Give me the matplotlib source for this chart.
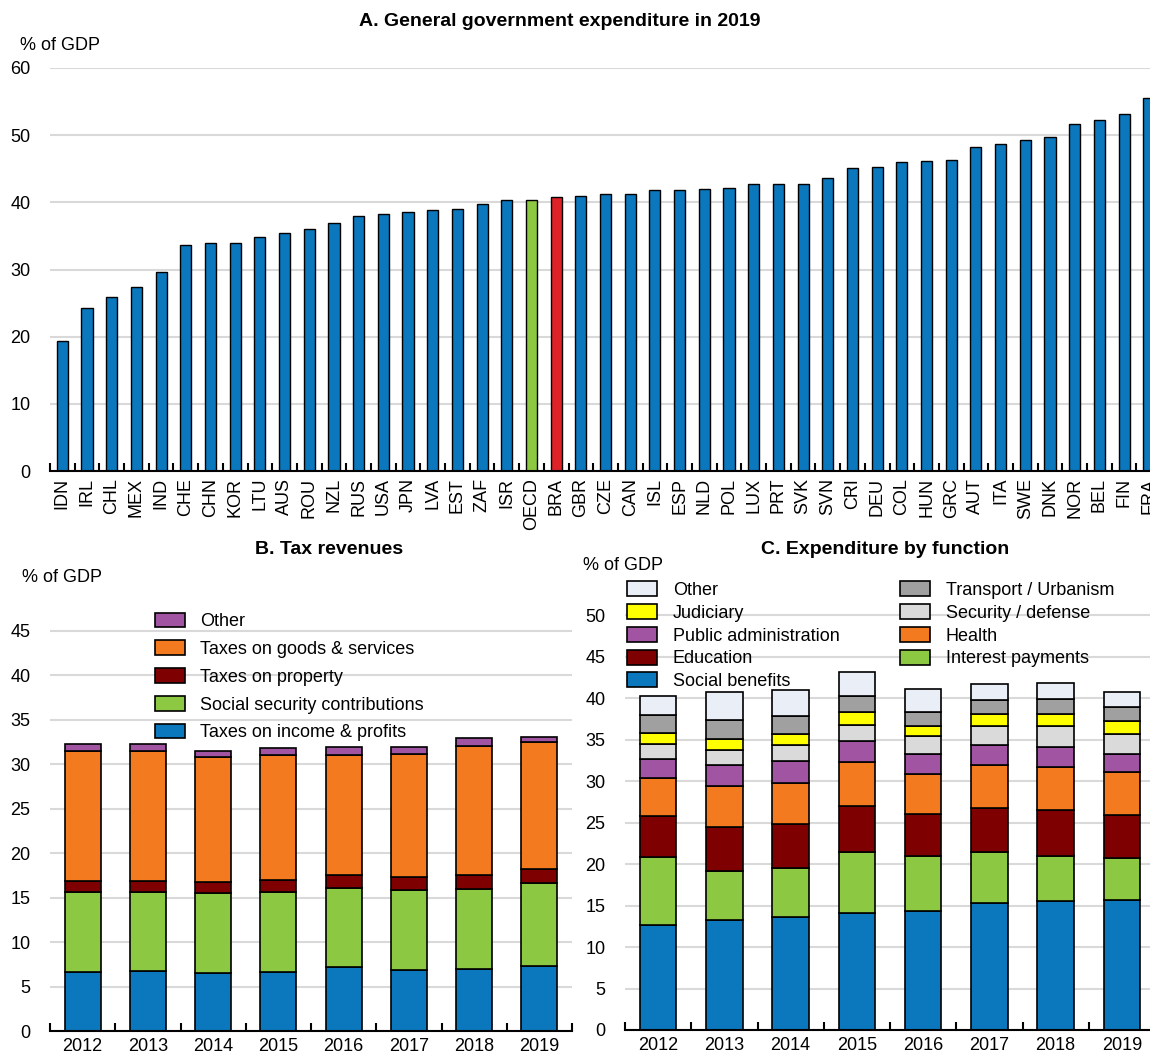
import numpy as np
import matplotlib
matplotlib.use('Agg')
from matplotlib import pyplot as plt
from matplotlib.patches import Patch

# Panel A : general government expenditure 2019, % of GDP
countries = ['IDN', 'IRL', 'CHL', 'MEX', 'IND', 'CHE', 'CHN', 'KOR', 'LTU', 'AUS',
             'ROU', 'NZL', 'RUS', 'USA', 'JPN', 'LVA', 'EST', 'ZAF', 'ISR', 'OECD',
             'BRA', 'GBR', 'CZE', 'CAN', 'ISL', 'ESP', 'NLD', 'POL', 'LUX', 'PRT',
             'SVK', 'SVN', 'CRI', 'DEU', 'COL', 'HUN', 'GRC', 'AUT', 'ITA', 'SWE',
             'DNK', 'NOR', 'BEL', 'FIN', 'FRA']
expenditure = [19.3, 24.2, 25.9, 27.4, 29.6, 33.7, 34.0, 34.0, 34.9, 35.5,
               36.0, 36.9, 37.9, 38.3, 38.5, 38.9, 39.0, 39.7, 40.4, 40.4,
               40.8, 40.9, 41.2, 41.2, 41.8, 41.9, 42.0, 42.1, 42.7, 42.7,
               42.8, 43.6, 45.1, 45.3, 46.0, 46.1, 46.3, 48.3, 48.7, 49.3,
               49.8, 51.7, 52.3, 53.2, 55.6]

years = ['2012', '2013', '2014', '2015', '2016', '2017', '2018', '2019']

# Panel B : tax revenues, % of GDP
tax_income = [6.6, 6.7, 6.5, 6.6, 7.2, 6.9, 7.0, 7.3]
tax_ssc = [9.0, 8.9, 9.0, 9.0, 8.9, 9.0, 9.0, 9.3]
tax_property = [1.3, 1.3, 1.3, 1.4, 1.4, 1.4, 1.5, 1.6]
tax_goods = [14.6, 14.6, 14.0, 14.0, 13.6, 13.9, 14.6, 14.3]
tax_other = [0.8, 0.8, 0.7, 0.8, 0.8, 0.8, 0.9, 0.6]

# Panel C : expenditure by function, % of GDP
exp_social = [12.7, 13.3, 13.6, 14.1, 14.4, 15.3, 15.5, 15.7]
exp_interest = [8.2, 5.9, 5.9, 7.4, 6.6, 6.1, 5.5, 5.0]
exp_education = [4.9, 5.3, 5.3, 5.5, 5.0, 5.3, 5.5, 5.2]
exp_health = [4.6, 4.9, 5.0, 5.3, 4.9, 5.3, 5.2, 5.2]
exp_admin = [2.3, 2.6, 2.6, 2.5, 2.4, 2.3, 2.4, 2.2]
exp_security = [1.8, 1.8, 1.9, 2.0, 2.1, 2.3, 2.6, 2.4]
exp_judiciary = [1.3, 1.3, 1.4, 1.5, 1.3, 1.5, 1.4, 1.6]
exp_transport = [2.2, 2.3, 2.2, 1.9, 1.6, 1.7, 1.8, 1.6]
exp_other = [2.3, 3.4, 3.1, 2.9, 2.8, 1.9, 1.9, 1.8]

BLUE = '#0B77BD'
GREEN = '#8CC841'
RED = '#DE2228'
ORANGE = '#F47A20'
MAROON = '#7F0000'
PURPLE = '#A154A1'
LGREY = '#DADADA'
DGREY = '#A0A0A0'
YELLOW = '#FFFF00'
PALE = '#EAEEF7'

plt.rcParams['font.family'] = ['Liberation Sans Narrow', 'Liberation Sans', 'DejaVu Sans']
FS = 13
W, H = 1150, 1060


def fx(px):
    return px / W


def fy(py):
    return 1 - py / H


def style_axes(ax, ticks, ymax):
    ax.set_ylim(0, ymax)
    ax.set_yticks(ticks)
    ax.grid(axis='y', color='#D9D9D9', linewidth=1.5)
    ax.set_axisbelow(True)
    for s in ['top', 'right', 'left']:
        ax.spines[s].set_visible(False)
    ax.spines['bottom'].set_linewidth(1.5)
    ax.tick_params(axis='y', length=0, pad=14, labelsize=FS)
    ax.tick_params(axis='x', which='major', length=0, pad=5, labelsize=FS)
    ax.tick_params(axis='x', which='minor', direction='in', length=6, width=1.5)


def stacked(ax, series, colors, labels, width):
    x = np.arange(len(years))
    bottom = np.zeros(len(years))
    handles = []
    for vals, c, lab in zip(series, colors, labels):
        ax.bar(x, vals, width, bottom=bottom, color=c, edgecolor='black', linewidth=1.2)
        bottom += np.array(vals)
        handles.append(Patch(facecolor=c, edgecolor='black', linewidth=1.2, label=lab))
    ax.set_xticks(x)
    ax.set_xticklabels(years)
    ax.set_xticks(np.arange(-0.5, len(years)), minor=True)
    ax.set_xlim(-0.5, len(years) - 0.5)
    return handles


fig = plt.figure(figsize=(W / 100, H / 100), dpi=100)

# ---- panel A
axA = fig.add_axes([fx(50), fy(471), fx(1100), (471 - 68) / H])
xa = np.arange(len(countries))
colsA = [GREEN if c == 'OECD' else RED if c == 'BRA' else BLUE for c in countries]
axA.bar(xa, expenditure, 0.45, color=colsA, edgecolor='black', linewidth=1)
style_axes(axA, range(0, 61, 10), 60)
axA.set_xticks(xa)
axA.set_xticklabels(countries, rotation=90)
axA.set_xticks(np.arange(-0.5, len(countries)), minor=True)
axA.set_xlim(-0.5, 44.05)
fig.text(fx(560), fy(22), 'A. General government expenditure in 2019', ha='center', va='center',
         fontsize=FS + 1, fontweight='bold')
fig.text(fx(20), fy(45), '% of GDP', ha='left', va='center', fontsize=FS)

# ---- panel B
axB = fig.add_axes([fx(50), fy(1031), fx(522), (1031 - 586.5) / H])
style_axes(axB, range(0, 46, 5), 50)
hB = stacked(axB, [tax_income, tax_ssc, tax_property, tax_goods, tax_other],
             [BLUE, GREEN, MAROON, ORANGE, PURPLE],
             ['Taxes on income & profits', 'Social security contributions', 'Taxes on property',
              'Taxes on goods & services', 'Other'], 0.55)
fig.legend(handles=hB[::-1], loc='upper left', bbox_to_anchor=(fx(155), fy(612.5)),
           frameon=False, fontsize=FS, borderpad=0, borderaxespad=0, handlelength=1.66,
           handleheight=0.89, handletextpad=0.83, labelspacing=0.56)
fig.text(fx(329), fy(550), 'B. Tax revenues', ha='center', va='center', fontsize=FS + 1,
         fontweight='bold')
fig.text(fx(22), fy(577), '% of GDP', ha='left', va='center', fontsize=FS)

# ---- panel C
axC = fig.add_axes([fx(625), fy(1030), fx(530), (1030 - 582) / H])
style_axes(axC, range(0, 51, 5), 54)
hC = stacked(axC, [exp_social, exp_interest, exp_education, exp_health, exp_admin,
                   exp_security, exp_judiciary, exp_transport, exp_other],
             [BLUE, GREEN, MAROON, ORANGE, PURPLE, LGREY, YELLOW, DGREY, PALE],
             ['Social benefits', 'Interest payments', 'Education', 'Health',
              'Public administration', 'Security / defense', 'Judiciary',
              'Transport / Urbanism', 'Other'], 0.55)
col1 = [hC[8], hC[6], hC[4], hC[2], hC[0]]
col2 = [hC[7], hC[5], hC[3], hC[1]]
leg_kw = dict(loc='upper left', frameon=False, fontsize=FS, borderpad=0, borderaxespad=0,
              handlelength=1.66, handleheight=0.89, handletextpad=0.88, labelspacing=0.28)
fig.legend(handles=col1, bbox_to_anchor=(fx(627), fy(581.5)), **leg_kw)
fig.legend(handles=col2, bbox_to_anchor=(fx(900), fy(581.5)), **leg_kw)
fig.text(fx(885), fy(550), 'C. Expenditure by function', ha='center', va='center',
         fontsize=FS + 1, fontweight='bold')
fig.text(fx(583), fy(566), '% of GDP', ha='left', va='center', fontsize=FS)

fig.savefig('out.png', dpi=100)
